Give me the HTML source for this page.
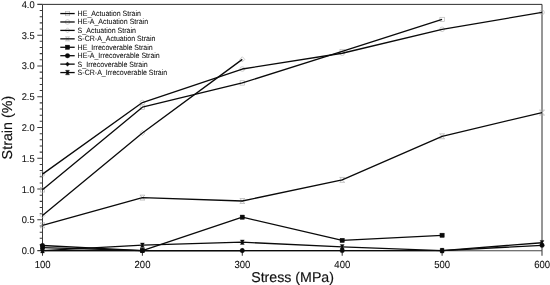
<!DOCTYPE html>
<html lang="en"><head><meta charset="utf-8"><title>Strain vs Stress</title>
<style>html,body{margin:0;padding:0;background:#fff;overflow:hidden}svg{display:block;will-change:transform}text{text-rendering:geometricPrecision}</style></head>
<body>
<svg width="550" height="285" viewBox="0 0 550 285" style="display:block">
<rect width="550" height="285" fill="#ffffff"/>
<path d="M42.5 4.38H542.0V250.62" fill="none" stroke="#2e2e2e" stroke-width="1.0"/>
<path d="M42.5 4.38V251.12" fill="none" stroke="#3a3a3a" stroke-width="1"/>
<path d="M42.0 250.74H542.0" fill="none" stroke="#444444" stroke-width="1.05"/>
<path d="M37.30 250.62H42.5M39.70 244.46H42.5M39.70 238.31H42.5M39.70 232.15H42.5M39.70 226.00H42.5M37.30 219.84H42.5M39.70 213.68H42.5M39.70 207.53H42.5M39.70 201.37H42.5M39.70 195.22H42.5M37.30 189.06H42.5M39.70 182.90H42.5M39.70 176.75H42.5M39.70 170.59H42.5M39.70 164.44H42.5M37.30 158.28H42.5M39.70 152.12H42.5M39.70 145.97H42.5M39.70 139.81H42.5M39.70 133.66H42.5M37.30 127.50H42.5M39.70 121.34H42.5M39.70 115.19H42.5M39.70 109.03H42.5M39.70 102.88H42.5M37.30 96.72H42.5M39.70 90.56H42.5M39.70 84.41H42.5M39.70 78.25H42.5M39.70 72.10H42.5M37.30 65.94H42.5M39.70 59.78H42.5M39.70 53.63H42.5M39.70 47.47H42.5M39.70 41.32H42.5M37.30 35.16H42.5M39.70 29.00H42.5M39.70 22.85H42.5M39.70 16.69H42.5M39.70 10.54H42.5M37.30 4.38H42.5" stroke="#3a3a3a" stroke-width="1.05" fill="none"/>
<path d="M42.50 250.62V255.82M142.40 250.62V255.82M242.30 250.62V255.82M342.20 250.62V255.82M442.10 250.62V255.82M542.00 250.62V255.82" stroke="#3a3a3a" stroke-width="1.05" fill="none"/>
<g font-family="Liberation Sans, Arial, sans-serif" font-size="9.8" fill="#111111" stroke="#111111" stroke-width="0.1">
<text transform="translate(34.6 254.17) scale(0.95 1)" text-anchor="end">0.0</text>
<text transform="translate(34.6 223.39) scale(0.95 1)" text-anchor="end">0.5</text>
<text transform="translate(34.6 192.61) scale(0.95 1)" text-anchor="end">1.0</text>
<text transform="translate(34.6 161.83) scale(0.95 1)" text-anchor="end">1.5</text>
<text transform="translate(34.6 131.05) scale(0.95 1)" text-anchor="end">2.0</text>
<text transform="translate(34.6 100.27) scale(0.95 1)" text-anchor="end">2.5</text>
<text transform="translate(34.6 69.49) scale(0.95 1)" text-anchor="end">3.0</text>
<text transform="translate(34.6 38.71) scale(0.95 1)" text-anchor="end">3.5</text>
<text transform="translate(34.6 7.53) scale(0.95 1)" text-anchor="end">4.0</text>
<text transform="translate(42.60 267.8) scale(0.93 1)" font-size="10.25" text-anchor="middle">100</text>
<text transform="translate(142.50 267.8) scale(0.93 1)" font-size="10.25" text-anchor="middle">200</text>
<text transform="translate(242.40 267.8) scale(0.93 1)" font-size="10.25" text-anchor="middle">300</text>
<text transform="translate(342.30 267.8) scale(0.93 1)" font-size="10.25" text-anchor="middle">400</text>
<text transform="translate(442.20 267.8) scale(0.93 1)" font-size="10.25" text-anchor="middle">500</text>
<text transform="translate(542.10 267.8) scale(0.93 1)" font-size="10.25" text-anchor="middle">600</text>
</g>
<rect x="40.30" y="187.66" width="4.40" height="4.40" fill="none" stroke="#b0b0b0" stroke-width="0.6"/>
<rect x="140.20" y="104.99" width="4.40" height="4.40" fill="none" stroke="#b0b0b0" stroke-width="0.6"/>
<rect x="240.10" y="80.73" width="4.40" height="4.40" fill="none" stroke="#b0b0b0" stroke-width="0.6"/>
<rect x="340.00" y="49.27" width="4.40" height="4.40" fill="none" stroke="#b0b0b0" stroke-width="0.6"/>
<rect x="439.90" y="17.26" width="4.40" height="4.40" fill="none" stroke="#b0b0b0" stroke-width="0.6"/>
<circle cx="42.50" cy="174.10" r="2.30" fill="none" stroke="#b0b0b0" stroke-width="0.6"/>
<circle cx="142.40" cy="102.57" r="2.30" fill="none" stroke="#b0b0b0" stroke-width="0.6"/>
<circle cx="242.30" cy="69.02" r="2.30" fill="none" stroke="#b0b0b0" stroke-width="0.6"/>
<circle cx="342.20" cy="53.26" r="2.30" fill="none" stroke="#b0b0b0" stroke-width="0.6"/>
<circle cx="442.10" cy="29.31" r="2.30" fill="none" stroke="#b0b0b0" stroke-width="0.6"/>
<circle cx="542.00" cy="12.38" r="2.30" fill="none" stroke="#b0b0b0" stroke-width="0.6"/>
<path d="M42.50 212.81L45.00 215.41L42.50 218.01L40.00 215.41Z" fill="none" stroke="#b0b0b0" stroke-width="0.6"/>
<path d="M142.40 130.38L144.90 132.98L142.40 135.58L139.90 132.98Z" fill="none" stroke="#b0b0b0" stroke-width="0.6"/>
<path d="M242.30 56.75L244.80 59.35L242.30 61.95L239.80 59.35Z" fill="none" stroke="#b0b0b0" stroke-width="0.6"/>
<path d="M40.00 222.87L45.00 222.87L40.00 227.77L45.00 227.77Z" fill="none" stroke="#a8a8a8" stroke-width="0.65"/>
<path d="M139.90 195.17L144.90 195.17L139.90 200.07L144.90 200.07Z" fill="none" stroke="#a8a8a8" stroke-width="0.65"/>
<path d="M239.80 198.55L244.80 198.55L239.80 203.45L244.80 203.45Z" fill="none" stroke="#a8a8a8" stroke-width="0.65"/>
<path d="M339.70 177.44L344.70 177.44L339.70 182.34L344.70 182.34Z" fill="none" stroke="#a8a8a8" stroke-width="0.65"/>
<path d="M439.60 133.85L444.60 133.85L439.60 138.75L444.60 138.75Z" fill="none" stroke="#a8a8a8" stroke-width="0.65"/>
<path d="M539.50 110.15L544.50 110.15L539.50 115.05L544.50 115.05Z" fill="none" stroke="#a8a8a8" stroke-width="0.65"/>
<polyline points="42.50,189.86 142.40,107.19 242.30,82.93 342.20,51.47 442.10,19.46" fill="none" stroke="#0a0a0a" stroke-width="1.32" stroke-linejoin="round"/>
<polyline points="42.50,174.10 142.40,102.57 242.30,69.02 342.20,53.26 442.10,29.31 542.00,12.38" fill="none" stroke="#0a0a0a" stroke-width="1.32" stroke-linejoin="round"/>
<polyline points="42.50,215.41 142.40,132.98 242.30,59.35" fill="none" stroke="#0a0a0a" stroke-width="1.32" stroke-linejoin="round"/>
<polyline points="42.50,225.32 142.40,197.62 242.30,201.00 342.20,179.89 442.10,136.30 542.00,112.60" fill="none" stroke="#0a0a0a" stroke-width="1.32" stroke-linejoin="round"/>
<polyline points="42.50,247.54 142.40,250.62 242.30,217.19 342.20,240.40 442.10,235.29" fill="none" stroke="#0a0a0a" stroke-width="1.32" stroke-linejoin="round"/>
<polyline points="42.50,245.51 142.40,250.62 242.30,250.62 342.20,250.62 442.10,250.62 542.00,245.33" fill="none" stroke="#0a0a0a" stroke-width="1.32" stroke-linejoin="round"/>
<polyline points="42.50,250.62 142.40,250.62 242.30,250.62" fill="none" stroke="#0a0a0a" stroke-width="1.32" stroke-linejoin="round"/>
<polyline points="42.50,250.62 142.40,245.20 242.30,242.19 342.20,246.80 442.10,250.62 542.00,242.74" fill="none" stroke="#0a0a0a" stroke-width="1.32" stroke-linejoin="round"/>
<rect x="40.35" y="245.39" width="4.30" height="4.30" fill="#0a0a0a" stroke="#0a0a0a" stroke-width="0.4"/>
<rect x="140.25" y="248.47" width="4.30" height="4.30" fill="#0a0a0a" stroke="#0a0a0a" stroke-width="0.4"/>
<rect x="240.15" y="215.04" width="4.30" height="4.30" fill="#0a0a0a" stroke="#0a0a0a" stroke-width="0.4"/>
<rect x="340.05" y="238.25" width="4.30" height="4.30" fill="#0a0a0a" stroke="#0a0a0a" stroke-width="0.4"/>
<rect x="439.95" y="233.14" width="4.30" height="4.30" fill="#0a0a0a" stroke="#0a0a0a" stroke-width="0.4"/>
<circle cx="42.50" cy="245.51" r="2.25" fill="#0a0a0a" stroke="#0a0a0a" stroke-width="0.4"/>
<circle cx="142.40" cy="250.62" r="2.25" fill="#0a0a0a" stroke="#0a0a0a" stroke-width="0.4"/>
<circle cx="242.30" cy="250.62" r="2.25" fill="#0a0a0a" stroke="#0a0a0a" stroke-width="0.4"/>
<circle cx="342.20" cy="250.62" r="2.25" fill="#0a0a0a" stroke="#0a0a0a" stroke-width="0.4"/>
<circle cx="442.10" cy="250.62" r="2.25" fill="#0a0a0a" stroke="#0a0a0a" stroke-width="0.4"/>
<circle cx="542.00" cy="245.33" r="2.25" fill="#0a0a0a" stroke="#0a0a0a" stroke-width="0.4"/>
<path d="M42.50 248.42L44.40 250.62L42.50 252.82L40.60 250.62Z" fill="#0a0a0a" stroke="#0a0a0a" stroke-width="0.4"/>
<path d="M142.40 248.42L144.30 250.62L142.40 252.82L140.50 250.62Z" fill="#0a0a0a" stroke="#0a0a0a" stroke-width="0.4"/>
<path d="M242.30 248.42L244.20 250.62L242.30 252.82L240.40 250.62Z" fill="#0a0a0a" stroke="#0a0a0a" stroke-width="0.4"/>
<path d="M40.50 248.32L44.50 248.32L43.20 250.62L44.50 252.92L40.50 252.92L41.80 250.62Z" fill="#0a0a0a" stroke="#0a0a0a" stroke-width="0.3"/>
<path d="M140.40 242.90L144.40 242.90L143.10 245.20L144.40 247.50L140.40 247.50L141.70 245.20Z" fill="#0a0a0a" stroke="#0a0a0a" stroke-width="0.3"/>
<path d="M240.30 239.89L244.30 239.89L243.00 242.19L244.30 244.49L240.30 244.49L241.60 242.19Z" fill="#0a0a0a" stroke="#0a0a0a" stroke-width="0.3"/>
<path d="M340.20 244.50L344.20 244.50L342.90 246.80L344.20 249.10L340.20 249.10L341.50 246.80Z" fill="#0a0a0a" stroke="#0a0a0a" stroke-width="0.3"/>
<path d="M440.10 248.32L444.10 248.32L442.80 250.62L444.10 252.92L440.10 252.92L441.40 250.62Z" fill="#0a0a0a" stroke="#0a0a0a" stroke-width="0.3"/>
<path d="M540.00 240.44L544.00 240.44L542.70 242.74L544.00 245.04L540.00 245.04L541.30 242.74Z" fill="#0a0a0a" stroke="#0a0a0a" stroke-width="0.3"/>
<g font-family="Liberation Sans, Arial, sans-serif" font-size="7.7" fill="#111111" stroke="#111111" stroke-width="0.06">
<rect x="65.30" y="11.35" width="4.40" height="4.40" fill="none" stroke="#b0b0b0" stroke-width="0.6"/>
<path d="M60.3 13.55H74.7" stroke="#0a0a0a" stroke-width="1.3"/>
<text transform="translate(77.6 15.95) scale(0.916 1)">HE_Actuation Strain</text>
<circle cx="67.50" cy="21.98" r="2.30" fill="none" stroke="#b0b0b0" stroke-width="0.6"/>
<path d="M60.3 21.98H74.7" stroke="#0a0a0a" stroke-width="1.3"/>
<text transform="translate(77.6 24.38) scale(0.916 1)">HE-A_Actuation Strain</text>
<path d="M67.50 27.81L70.00 30.41L67.50 33.01L65.00 30.41Z" fill="none" stroke="#b0b0b0" stroke-width="0.6"/>
<path d="M60.3 30.41H74.7" stroke="#0a0a0a" stroke-width="1.3"/>
<text transform="translate(77.6 32.81) scale(0.916 1)">S_Actuation Strain</text>
<path d="M65.50 36.88L69.50 36.88L65.50 40.80L69.50 40.80Z" fill="none" stroke="#a8a8a8" stroke-width="0.65"/>
<path d="M60.3 38.84H74.7" stroke="#0a0a0a" stroke-width="1.3"/>
<text transform="translate(77.6 41.24) scale(0.916 1)">S-CR-A_Actuation Strain</text>
<path d="M60.3 47.27H74.7" stroke="#0a0a0a" stroke-width="1.3"/>
<rect x="65.35" y="45.12" width="4.30" height="4.30" fill="#0a0a0a" stroke="#0a0a0a" stroke-width="0.4"/>
<text transform="translate(77.6 49.67) scale(0.916 1)">HE_Irrecoverable Strain</text>
<path d="M60.3 55.70H74.7" stroke="#0a0a0a" stroke-width="1.3"/>
<circle cx="67.50" cy="55.70" r="2.25" fill="#0a0a0a" stroke="#0a0a0a" stroke-width="0.4"/>
<text transform="translate(77.6 58.10) scale(0.916 1)">HE-A_Irrecoverable Strain</text>
<path d="M60.3 64.13H74.7" stroke="#0a0a0a" stroke-width="1.3"/>
<path d="M67.50 61.93L69.40 64.13L67.50 66.33L65.60 64.13Z" fill="#0a0a0a" stroke="#0a0a0a" stroke-width="0.4"/>
<text transform="translate(77.6 66.53) scale(0.916 1)">S_Irrecoverable Strain</text>
<path d="M60.3 72.56H74.7" stroke="#0a0a0a" stroke-width="1.3"/>
<path d="M65.50 70.26L69.50 70.26L68.20 72.56L69.50 74.86L65.50 74.86L66.80 72.56Z" fill="#0a0a0a" stroke="#0a0a0a" stroke-width="0.3"/>
<text transform="translate(77.6 74.96) scale(0.916 1)">S-CR-A_Irrecoverable Strain</text>
</g>
<text x="292.6" y="281.6" text-anchor="middle" font-family="Liberation Sans, Arial, sans-serif" font-size="14.2" fill="#111111" stroke="#111111" stroke-width="0.15">Stress (MPa)</text>
<text transform="translate(12.3 127.6) rotate(-90)" text-anchor="middle" font-family="Liberation Sans, Arial, sans-serif" font-size="14.3" fill="#111111" stroke="#111111" stroke-width="0.15">Strain (%)</text>
</svg>
</body></html>
